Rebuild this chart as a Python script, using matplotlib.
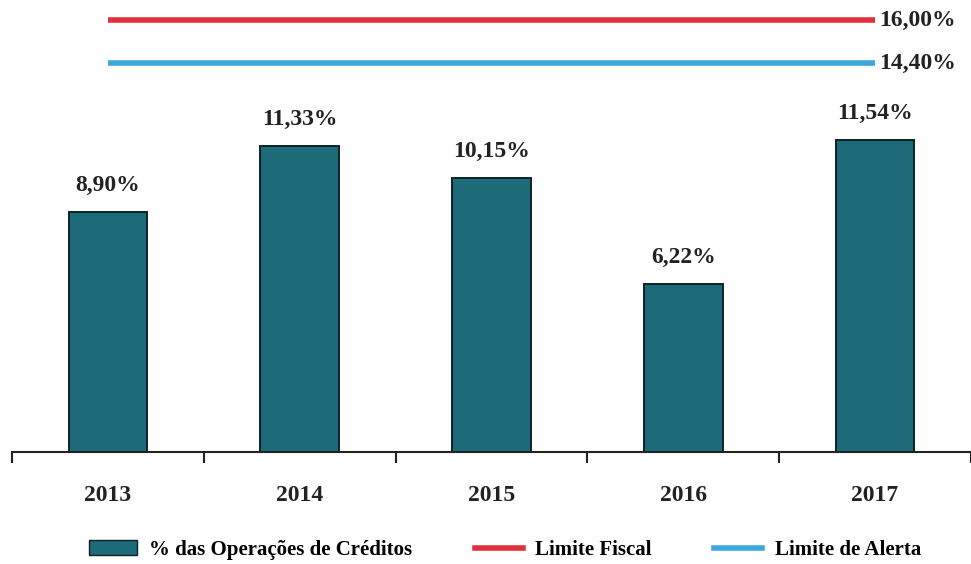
import matplotlib.pyplot as plt
from matplotlib.lines import Line2D
from matplotlib.patches import Patch

# data
anos = ['2013', '2014', '2015', '2016', '2017']
operacoes = [8.90, 11.33, 10.15, 6.22, 11.54]
limite_fiscal = [16.00] * 5
limite_alerta = [14.40] * 5

cor_barra = '#1d6b79'
cor_fiscal = '#e0303c'
cor_alerta = '#3aa8dc'

plt.rcParams['font.family'] = ['Liberation Serif', 'DejaVu Serif']
plt.rcParams['font.weight'] = 'bold'

fig = plt.figure(figsize=(9.71, 5.64), dpi=100)
ax = fig.add_axes([12 / 971, (564 - 452) / 564, 959 / 971, 448 / 564])

x = list(range(len(anos)))
ax.bar(x, operacoes, width=0.41, color=cor_barra, edgecolor='#0b2328', linewidth=1.4, zorder=2)
for xi, v in zip(x, operacoes):
    ax.text(xi, v + 0.6, f'{v:.2f}%'.replace('.', ','), ha='center', va='bottom',
            fontsize=17, fontweight='bold', color='#222222')

ax.plot(x, limite_fiscal, color=cor_fiscal, linewidth=4, solid_capstyle='butt')
ax.plot(x, limite_alerta, color=cor_alerta, linewidth=4, solid_capstyle='butt')
ax.text(x[-1] + 0.02, limite_fiscal[-1], f'{limite_fiscal[-1]:.2f}%'.replace('.', ','),
        ha='left', va='center', fontsize=17, fontweight='bold', color='#222222')
ax.text(x[-1] + 0.02, limite_alerta[-1], f'{limite_alerta[-1]:.2f}%'.replace('.', ','),
        ha='left', va='center', fontsize=17, fontweight='bold', color='#222222')

ax.set_xlim(-0.5, -0.5 + 959 / 194)
ax.set_ylim(0, 448 / 27.0)
for s in ['top', 'right', 'left']:
    ax.spines[s].set_visible(False)
ax.spines['bottom'].set_linewidth(1.5)
ax.spines['bottom'].set_color('#222222')
ax.set_yticks([])
ax.set_xticks([i - 0.5 for i in range(len(anos) + 1)])
ax.set_xticklabels([])
ax.set_xticks(x, minor=True)
ax.set_xticklabels(anos, minor=True, fontsize=17, fontweight='bold', color='#222222')
ax.tick_params(axis='x', which='major', direction='out', length=8, width=1.5, color='#222222')
ax.tick_params(axis='x', which='minor', length=0, pad=24)

handles = [
    Patch(facecolor=cor_barra, edgecolor='#0b2328', label='% das Operações de Créditos'),
    Line2D([0], [0], color=cor_fiscal, linewidth=4, label='Limite Fiscal'),
    Line2D([0], [0], color=cor_alerta, linewidth=4, label='Limite de Alerta'),
]
fig.legend(handles=handles, loc='center', bbox_to_anchor=(505 / 971, 1 - 550 / 564), ncol=3,
           frameon=False, prop={'size': 15, 'weight': 'bold'}, handlelength=2.3,
           handleheight=0.7, columnspacing=3.0, handletextpad=0.6)

fig.savefig('out.png', dpi=100)
